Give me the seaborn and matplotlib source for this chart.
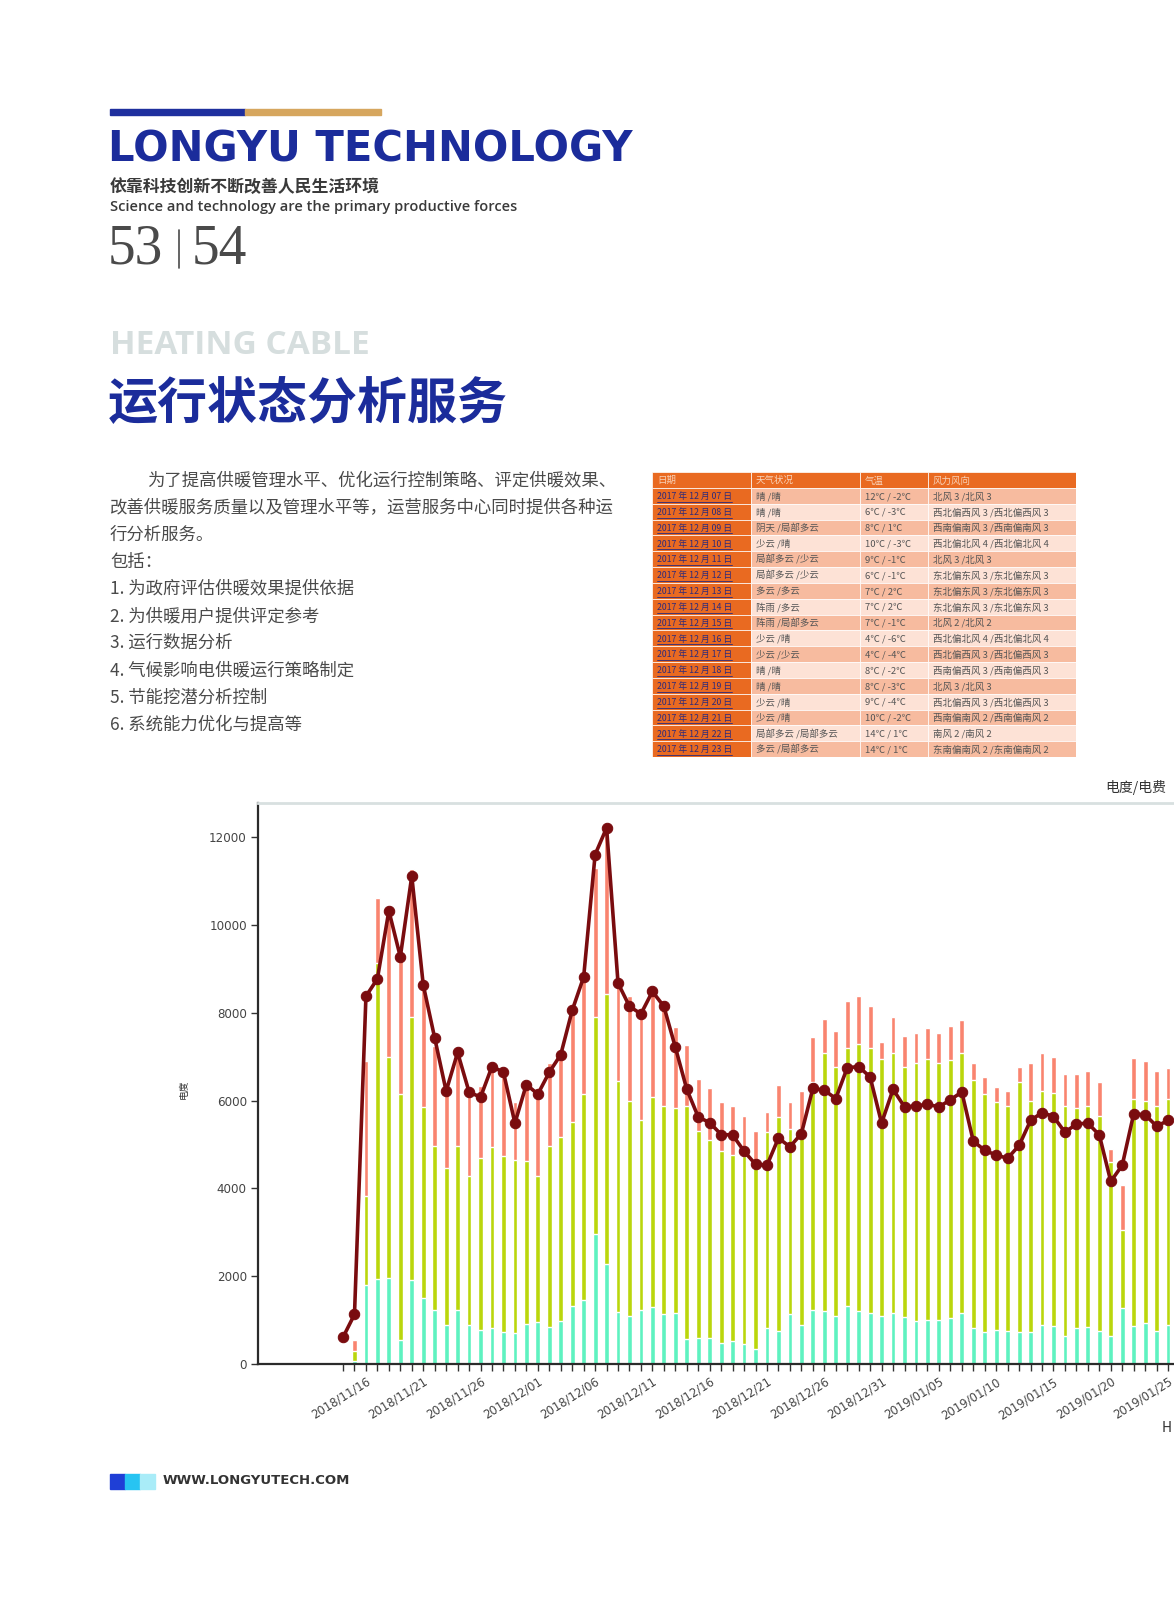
import numpy as np
import pandas as pd
import matplotlib.pyplot as plt
import matplotlib.patches as mpatches
import seaborn as sns

W, H = 1174, 1600

# daily electricity data, first day 2018/11/14
start_date = "2018-11-14"
total_kwh = [50, 540, 6900, 10630, 10370, 9400, 11290, 8650, 7240, 6250,
             7140, 6240, 6340, 6900, 6690, 5960, 6410, 6100, 6860, 7140,
             8120, 8860, 11310, 12250, 8690, 8380, 8000, 8590, 8290, 7670,
             7270, 6490, 6290, 5960, 5890, 5660, 5320, 5750, 6370, 5960,
             6220, 7460, 7870, 7590, 8280, 8380, 8150, 7350, 7910, 7480,
             7550, 7660, 7550, 7700, 7830, 6860, 6550, 6320, 6220, 6780,
             6860, 7080, 6990, 6620, 6620, 6670, 6420, 4890, 4090, 6970,
             6910, 6670, 6740]
mid_kwh = [10, 290, 3840, 9140, 7000, 6150, 7920, 5850, 4960, 4470,
           4960, 4290, 4700, 4940, 4740, 4660, 4620, 4290, 4960, 5180,
           5510, 6150, 7920, 8430, 6450, 6000, 5550, 6080, 5880, 5840,
           5870, 5320, 5110, 4850, 4760, 4750, 4580, 5280, 5620, 5360,
           5230, 6430, 7080, 6780, 7210, 7290, 7210, 6950, 7080, 6780,
           6860, 6950, 6860, 6920, 7080, 6480, 6150, 5960, 5880, 6430,
           6000, 6220, 6180, 5880, 5830, 5880, 5660, 4600, 3050, 6050,
           6000, 5880, 6050]
base_kwh = [0, 60, 1810, 1940, 1960, 540, 1920, 1500, 1220, 900,
            1220, 900, 780, 820, 740, 710, 920, 950, 840, 970,
            1330, 1470, 2970, 2290, 1180, 1100, 1240, 1300, 1150, 1170,
            560, 600, 600, 480, 520, 450, 340, 810, 750, 1130,
            900, 1230, 1210, 1090, 1320, 1210, 1170, 1090, 1160, 1060,
            970, 1000, 1000, 1040, 1170, 830, 740, 780, 750, 720,
            720, 900, 870, 640, 830, 850, 760, 640, 1280, 870,
            930, 760, 900]
daily_line = [610, 1130, 8380, 8780, 10330, 9280, 11120, 8640, 7430, 6220,
              7100, 6200, 6080, 6780, 6650, 5490, 6370, 6150, 6650, 7050,
              8060, 8820, 11610, 12220, 8680, 8150, 7980, 8490, 8150, 7220,
              6260, 5630, 5500, 5230, 5220, 4850, 4550, 4530, 5150, 4950,
              5250, 6280, 6240, 6050, 6750, 6780, 6540, 5490, 6260, 5860,
              5880, 5920, 5860, 6020, 6200, 5080, 4870, 4760, 4690, 4980,
              5550, 5730, 5640, 5280, 5470, 5490, 5220, 4160, 4530, 5700,
              5680, 5420, 5550]
y_ticks = [0, 2000, 4000, 6000, 8000, 10000, 12000]

# weather table
table_header = ["日期", "天气状况", "气温", "风力风向"]
table_days = ["07", "08", "09", "10", "11", "12", "13", "14", "15",
              "16", "17", "18", "19", "20", "21", "22", "23"]
table_weather = ["晴 /晴", "晴 /晴", "阴天 /局部多云", "少云 /晴", "局部多云 /少云",
                 "局部多云 /少云", "多云 /多云", "阵雨 /多云", "阵雨 /局部多云",
                 "少云 /晴", "少云 /少云", "晴 /晴", "晴 /晴", "少云 /晴", "少云 /晴",
                 "局部多云 /局部多云", "多云 /局部多云"]
table_temp = ["12℃ / -2℃", "6℃ / -3℃", "8℃ / 1℃", "10℃ / -3℃", "9℃ / -1℃",
              "6℃ / -1℃", "7℃ / 2℃", "7℃ / 2℃", "7℃ / -1℃", "4℃ / -6℃",
              "4℃ / -4℃", "8℃ / -2℃", "8℃ / -3℃", "9℃ / -4℃", "10℃ / -2℃",
              "14℃ / 1℃", "14℃ / 1℃"]
table_wind = ["北风 3 /北风 3", "西北偏西风 3 /西北偏西风 3", "西南偏南风 3 /西南偏南风 3",
              "西北偏北风 4 /西北偏北风 4", "北风 3 /北风 3", "东北偏东风 3 /东北偏东风 3",
              "东北偏东风 3 /东北偏东风 3", "东北偏东风 3 /东北偏东风 3", "北风 2 /北风 2",
              "西北偏北风 4 /西北偏北风 4", "西北偏西风 3 /西北偏西风 3",
              "西南偏西风 3 /西南偏西风 3", "北风 3 /北风 3", "西北偏西风 3 /西北偏西风 3",
              "西南偏南风 2 /西南偏南风 2", "南风 2 /南风 2", "东南偏南风 2 /东南偏南风 2"]

intro_lines = ["为了提高供暖管理水平、优化运行控制策略、评定供暖效果、",
               "改善供暖服务质量以及管理水平等，运营服务中心同时提供各种运",
               "行分析服务。",
               "包括：",
               "1. 为政府评估供暖效果提供依据",
               "2. 为供暖用户提供评定参考",
               "3. 运行数据分析",
               "4. 气候影响电供暖运行策略制定",
               "5. 节能挖潜分析控制",
               "6. 系统能力优化与提高等"]

BLUE = "#1b2c9b"
SALMON = "#f9846f"
GREEN = "#bad60c"
MINT = "#5ef2c0"
LINE_RED = "#7a0c0f"

sns.set_theme(style="white")
plt.rcParams['font.family'] = ['Noto Sans CJK SC', 'DejaVu Sans']
plt.rcParams['axes.unicode_minus'] = False


def fx(x):
    return x / W


def fy(y):
    return 1 - y / H


fig = plt.figure(figsize=(W / 100, H / 100), dpi=100)
fig.patch.set_facecolor("white")

# header
fig.add_artist(mpatches.Rectangle((fx(110), fy(115)), 135 / W, 6 / H, color="#1f2f9e",
                                  transform=fig.transFigure))
fig.add_artist(mpatches.Rectangle((fx(245), fy(115)), 136 / W, 6 / H, color="#d6a65e",
                                  transform=fig.transFigure))
fig.text(fx(108), fy(162), "LONGYU TECHNOLOGY", fontsize=30, fontweight="heavy",
         color=BLUE, family="DejaVu Sans", va="baseline")
fig.text(fx(110), fy(187), "依靠科技创新不断改善人民生活环境", fontsize=12.2, fontweight="bold",
         color="#3a3a3a", va="center")
fig.text(fx(110), fy(207), "Science and technology are the primary productive forces",
         fontsize=10.5, fontweight="semibold", color="#3a3a3a", family="Open Sans", va="center")
fig.text(fx(108), fy(250), "53", fontsize=40, color="#4a4a4a", family="Liberation Serif", va="center")
fig.add_artist(plt.Line2D([fx(179), fx(179)], [fy(230), fy(268)], color="#4a4a4a", lw=1.2,
                          transform=fig.transFigure))
fig.text(fx(192), fy(250), "54", fontsize=40, color="#4a4a4a", family="Liberation Serif", va="center")
fig.text(fx(110), fy(345), "HEATING CABLE", fontsize=24, fontweight="bold", color="#d6dede",
         family="Open Sans", va="center")
fig.text(fx(108), fy(405), "运行状态分析服务", fontsize=36, fontweight="bold", color=BLUE, va="center")

# intro text
for i, line in enumerate(intro_lines):
    x0 = 147 if i == 0 else 110
    fig.text(fx(x0), fy(480 + i * 27.2), line, fontsize=12.5, color="#4a4a4a", va="center")

# weather table
tax = fig.add_axes([fx(652), fy(757), 424 / W, 285 / H])
col_edges = [0, 99, 208, 276, 424]
n_rows = len(table_days) + 1
tax.set_xlim(0, 424)
tax.set_ylim(n_rows, 0)
tax.axis("off")
for r in range(n_rows):
    for c in range(4):
        if r == 0 or c == 0:
            fc = "#e96a21"
        else:
            fc = "#f7bb9f" if r % 2 == 1 else "#fde2d6"
        tax.add_patch(mpatches.Rectangle((col_edges[c], r), col_edges[c + 1] - col_edges[c], 1,
                                         facecolor=fc, edgecolor="white", lw=0.5))
for c, s in enumerate(table_header):
    tax.text(col_edges[c] + 5, 0.55, s, fontsize=6.8, color="#f8d2b8", va="center")
for r in range(1, n_rows):
    k = r - 1
    tax.text(5, r + 0.55, f"2017 年 12 月 {table_days[k]} 日", fontsize=6.3, color="#2c2a7c",
             va="center")
    tax.plot([5, 80], [r + 0.88, r + 0.88], color="#2c2a7c", lw=0.6)
    tax.text(col_edges[1] + 5, r + 0.55, table_weather[k], fontsize=6.8, color="#555555", va="center")
    tax.text(col_edges[2] + 5, r + 0.55, table_temp[k], fontsize=6.8, color="#555555", va="center")
    tax.text(col_edges[3] + 5, r + 0.55, table_wind[k], fontsize=6.8, color="#555555", va="center")

# chart
n = len(daily_line)
dates = pd.date_range(start_date, periods=n, freq="D")
df = pd.DataFrame({"idx": np.arange(n), "total": total_kwh, "mid": mid_kwh,
                   "base": base_kwh, "line": daily_line})

ax = fig.add_axes([fx(258), fy(1364), (1250 - 258) / W, (1364 - 803) / H])
for col, c in [("total", SALMON), ("mid", GREEN), ("base", MINT)]:
    sns.barplot(data=df, x="idx", y=col, color=c, width=0.42, native_scale=True,
                saturation=1, errorbar=None, ax=ax)
sns.lineplot(data=df, x="idx", y="line", color=LINE_RED, lw=2.6, marker="o", markersize=7.5,
             markeredgecolor=LINE_RED, ax=ax)

ax.set_xlim(-7.42, 79.15)
ax.set_ylim(0, 12786)
ax.set_yticks(y_ticks)
ax.set_yticklabels([str(v) for v in y_ticks], fontsize=8.6, color="#444444", family="DejaVu Sans")
labels = [d.strftime("%Y/%m/%d") if (i - 2) % 5 == 0 else "" for i, d in enumerate(dates)]
ax.set_xticks(np.arange(n))
ax.set_xticklabels(labels, rotation=32, ha="right", rotation_mode="anchor",
                   fontsize=8.4, color="#444444", family="DejaVu Sans")
ax.tick_params(axis="both", which="both", direction="out", length=5, width=1, color="#333333",
               bottom=True, left=True, pad=3)
ax.set_xlabel("")
ax.set_ylabel("电度", fontsize=7, color="#333333")
ax.yaxis.set_label_coords((189 - 258) / 992, 0.49)
for side in ["left", "bottom"]:
    ax.spines[side].set_color("#2b2b2b")
    ax.spines[side].set_linewidth(1.6)
ax.spines["top"].set_color("#d8e0e0")
ax.spines["top"].set_linewidth(2)
ax.spines["right"].set_visible(False)
ax.grid(False)

fig.text(fx(1105), fy(788), "电度/电费", fontsize=10, color="#333333", va="center")
fig.text(fx(1162), fy(1428), "H", fontsize=10, color="#333333", va="center")

# footer
for x0, c in [(110, "#1f3fd6"), (125, "#27c4f2"), (140, "#a9ecf8")]:
    fig.add_artist(mpatches.Rectangle((fx(x0), fy(1489)), 15 / W, 15 / H, color=c,
                                      transform=fig.transFigure))
fig.text(fx(163), fy(1481), "WWW.LONGYUTECH.COM", fontsize=9.5, fontweight="bold",
         color="#333333", family="DejaVu Sans", va="center")

fig.savefig("out.png", dpi=100)
